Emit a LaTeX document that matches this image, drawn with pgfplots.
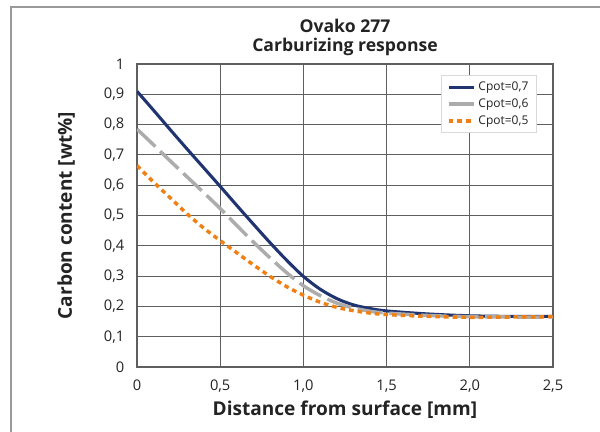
\documentclass[border=0pt]{standalone}
\usepackage{pgfplots}
\pgfplotsset{compat=1.18}
\usepackage{fontspec}
\setmainfont{Open Sans}
\definecolor{cnavy}{RGB}{31,52,112}
\definecolor{cgray}{RGB}{172,172,172}
\definecolor{corange}{RGB}{240,128,20}
\definecolor{cgrid}{RGB}{95,95,95}
\definecolor{ctext}{RGB}{35,35,35}
\begin{document}
\begin{tikzpicture}[x=1pt,y=1pt]
\useasboundingbox (0,0) rectangle (450,324);
\draw[color=gray!80, line width=1.2pt] (8.25,0) -- (8.25,318.75) -- (450,318.75);
\node[font=\fontsize{13.2}{14.8}\selectfont\bfseries, text=ctext, align=center] at (258.75,296) {Ovako 277\\Carburizing response};
\begin{axis}[
  scale only axis, width=312pt, height=227.25pt,
  at={(102.75pt,48.75pt)}, anchor=origin,
  xmin=0, xmax=2.5, ymin=0, ymax=1,
  xtick={0,0.5,1,1.5,2,2.5},
  xticklabels={0,{0,5},{1,0},{1,5},{2,0},{2,5}},
  ytick={0,0.1,0.2,0.3,0.4,0.5,0.6,0.7,0.8,0.9,1},
  yticklabels={0,{0,1},{0,2},{0,3},{0,4},{0,5},{0,6},{0,7},{0,8},{0,9},1},
  grid=major, grid style={cgrid, line width=0.8pt},
  axis line style={cgrid, line width=0.8pt},
  major tick length=0pt,
  tick label style={font=\fontsize{11}{13}\selectfont, text=ctext},
  xticklabel style={yshift=-6pt},
  yticklabel style={xshift=-6pt},
  xlabel={Distance from surface [mm]},
  ylabel={Carbon content [wt\%]},
  label style={font=\fontsize{14.3}{16}\selectfont\bfseries, text=ctext},
  xlabel style={yshift=0pt},
  ylabel style={yshift=15pt},
  legend style={at={(0.731,0.964)}, anchor=north west, draw=gray!30, line width=0.8pt,
    font=\fontsize{9}{10.5}\selectfont, text=ctext, inner xsep=4pt, inner ysep=3pt, row sep=0.5pt},
  legend cell align=left,
  legend image code/.code={\draw[#1] (0pt,0pt) -- (19pt,0pt);},
  every axis plot/.append style={smooth},
]
\addplot[cnavy, line width=2.3pt] coordinates {
(0,0.91)(0.1,0.847)(0.2,0.783)(0.3,0.72)(0.4,0.658)(0.5,0.596)(0.6,0.533)(0.7,0.471)
(0.8,0.41)(0.9,0.352)(1.0,0.299)(1.1,0.257)(1.2,0.226)(1.3,0.205)(1.4,0.193)
(1.5,0.185)(1.75,0.175)(2.0,0.169)(2.25,0.167)(2.5,0.167)};
\addplot[cgray, line width=2.6pt, dash pattern=on 19pt off 5pt] coordinates {
(0,0.785)(0.1,0.733)(0.2,0.68)(0.3,0.628)(0.4,0.576)(0.5,0.523)(0.6,0.467)(0.7,0.412)
(0.8,0.36)(0.9,0.311)(1.0,0.268)(1.1,0.236)(1.2,0.211)(1.3,0.195)(1.4,0.184)
(1.5,0.178)(1.75,0.170)(2.0,0.166)(2.25,0.165)(2.5,0.165)};
\addplot[corange, line width=2.6pt, dash pattern=on 3.5pt off 3pt] coordinates {
(0,0.665)(0.1,0.61)(0.2,0.558)(0.3,0.506)(0.4,0.459)(0.5,0.417)(0.6,0.377)(0.7,0.337)
(0.8,0.299)(0.9,0.265)(1.0,0.237)(1.1,0.214)(1.2,0.197)(1.3,0.186)(1.4,0.178)
(1.5,0.173)(1.75,0.167)(2.0,0.164)(2.25,0.165)(2.5,0.166)};
\legend{Cpot=0{,}7,Cpot=0{,}6,Cpot=0{,}5}
\end{axis}
\end{tikzpicture}
\end{document}
